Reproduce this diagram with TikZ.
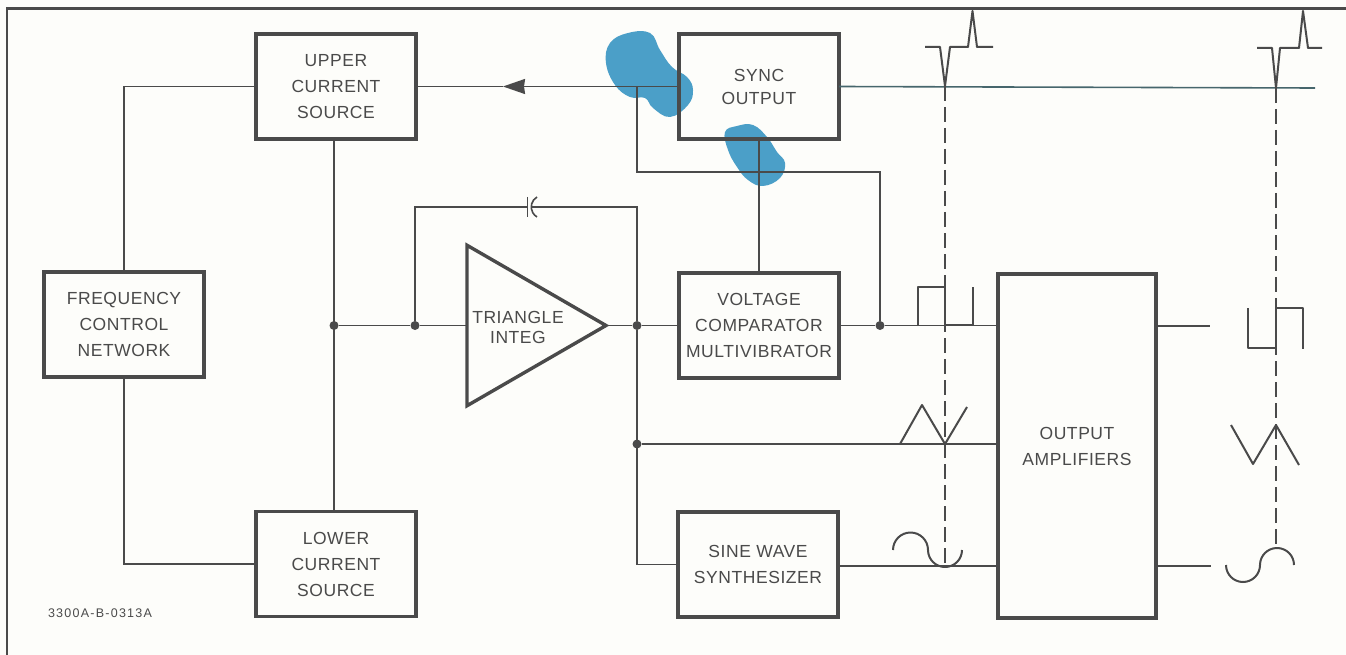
\documentclass[tikz,border=0pt]{standalone}
\usepackage{fontspec}
\setmainfont[LetterSpace=3.2]{Liberation Sans}
\usetikzlibrary{arrows.meta,shapes.geometric}
\definecolor{ink}{HTML}{4A4A4A}
\definecolor{paper}{HTML}{FDFDFA}
\definecolor{spot}{HTML}{4B9FC8}
\definecolor{syncink}{HTML}{46666C}
\tikzset{
  blockbox/.style={draw=ink,line width=3.4pt,text=ink,inner sep=0pt,outer sep=0pt,align=center,
    minimum width=160pt,minimum height=105pt,font=\fontsize{17.5}{26}\selectfont},
  junction/.style={circle,fill=ink,inner sep=0pt,minimum size=9pt},
  wire/.style={draw=ink,line width=1.6pt},
  wave/.style={draw=ink,line width=2pt,line join=round},
  probe/.style={draw=ink,line width=1.6pt,dash pattern=on 15pt off 6pt},
  blob/.style={fill=spot,draw=none}
}
\begin{document}
\begin{tikzpicture}[x=1pt,y=-1pt,>={Stealth[length=22pt,width=15pt,inset=1pt]}]
\path[fill=paper,use as bounding box] (0,0) rectangle (1346,655);
\fill[blob] plot[smooth cycle,tension=0.7] coordinates {(606,63) (610,43) (628,33) (650,33) (660,50) (672,67) (687,77) (693,90) (688,105) (670,117) (653,108) (645,98) (630,97) (615,85)};
\fill[blob] plot[smooth cycle,tension=0.7] coordinates {(725,132) (737,126) (753,125) (767,137) (777,152) (785,163) (780,178) (763,186) (748,180) (737,167) (728,150)};
\draw[draw=ink,line width=2.2pt] (7,655) -- (7,8.5) -- (1346,8.5);

\node[blockbox] (upper) at (336,86.5) {UPPER\\CURRENT\\SOURCE};
\node[blockbox] (lower) at (336,564) {LOWER\\CURRENT\\SOURCE};
\node[blockbox] (freq) at (124,324.5) {FREQUENCY\\CONTROL\\NETWORK};
\node[blockbox] (sync) at (759,86.5) {SYNC\\[-3pt]OUTPUT};
\node[blockbox] (comparator) at (759,325.5) {VOLTAGE\\COMPARATOR\\MULTIVIBRATOR};
\node[blockbox] (sine) at (758,564.5) {SINE WAVE\\SYNTHESIZER};
\node[blockbox,minimum width=158pt,minimum height=344pt] (amp) at (1077,446) {OUTPUT\\AMPLIFIERS};
\node[draw=ink,line width=3.4pt,text=ink,inner sep=0pt,outer sep=0pt,isosceles triangle,isosceles triangle apex angle=60,
  minimum height=139pt,anchor=apex,align=center,font=\fontsize{17.5}{20}\selectfont] (integ) at (606,325.5) {\rule{0pt}{16.5pt}TRIANGLE\\INTEG};
\node[text=ink,font=\fontsize{12.5}{14}\selectfont\addfontfeature{LetterSpace=10},inner sep=0pt] (code) at (100,613) {3300A-B-0313A};

\node[junction] (jupper) at (334,325.5) {};
\node[junction] (jfeed) at (415,325.5) {};
\node[junction] (jout) at (637,325.5) {};
\node[junction] (jtri) at (637,444) {};
\node[junction] (jsquare) at (880,325.5) {};
\coordinate (arrowtip) at (503,86.5);
\coordinate (syncend) at (1315,88);
\coordinate (capleft) at (527.5,207);
\coordinate (capright) at (532,207);
\coordinate (squareout) at (1210,326);
\coordinate (sineout) at (1211,566);

\draw[wire] (freq.north) |- (upper.west);
\draw[wire] (freq.south) |- (lower.west);
\draw[wire] (upper.south -| jupper) -- (lower.north -| jupper);
\draw[wire] (jupper) -- (jfeed) -- (integ.west |- jfeed);
\draw[wire] (jfeed) |- (capleft);
\draw[wire] (jout) |- (capright);
\draw[wire] (527.5,197) -- (527.5,217);
\draw[wire] (537,197) arc[start angle=240,end angle=120,radius=11.5];
\draw[wire] (integ.apex) -- (jout) -- (comparator.west);
\draw[wire] (jout) |- (sine.west);
\draw[wire] (jtri) -- (amp.west |- jtri);
\draw[wire] (comparator.east) -- (jsquare) -- (amp.west |- jsquare);
\draw[wire] (jsquare) |- (637,172) -- (637,86.5);
\draw[wire] (sync.south) -- (comparator.north);
\draw[wire,->] (sync.west) -- (arrowtip);
\draw[wire] (arrowtip) -- (upper.east);
\draw[wire,draw=syncink] (sync.east) -- (syncend);
\draw[wire] (sine.east |- sineout) -- (amp.west |- sineout);
\draw[wire] (amp.east |- squareout) -- (squareout);
\draw[wire] (amp.east |- sineout) -- (sineout);

\draw[probe] (945,86) -- (945,566);
\draw[probe] (1276,88) -- (1276,548);

\draw[wave] (925,47) -- (940,47) -- (945,86) -- (950,47) -- (968,47) -- (972.5,11) -- (977,47) -- (993,47);
\draw[wave] (1257,48) -- (1272,48) -- (1276,88) -- (1280,48) -- (1299,48) -- (1303,11) -- (1308,48) -- (1322,48);
\draw[wave] (918,326) -- (918,286.5) -- (945,286.5) -- (945,325) -- (972.5,325) -- (972.5,287);
\draw[wave] (1248,308) -- (1248,348) -- (1276,348) -- (1276,308) -- (1303,308) -- (1303,349);
\draw[wave] (900,444) -- (922,405) -- (945,444) -- (967,407);
\draw[wave] (1231,425) -- (1253,464) -- (1276,425) -- (1299,465);
\draw[wave] (893,550) arc[start angle=180,end angle=360,radius=17.5] arc[start angle=180,end angle=0,radius=17];
\draw[wave] (1226,565) arc[start angle=180,end angle=0,radius=17] arc[start angle=180,end angle=360,radius=17];
\end{tikzpicture}
\end{document}
